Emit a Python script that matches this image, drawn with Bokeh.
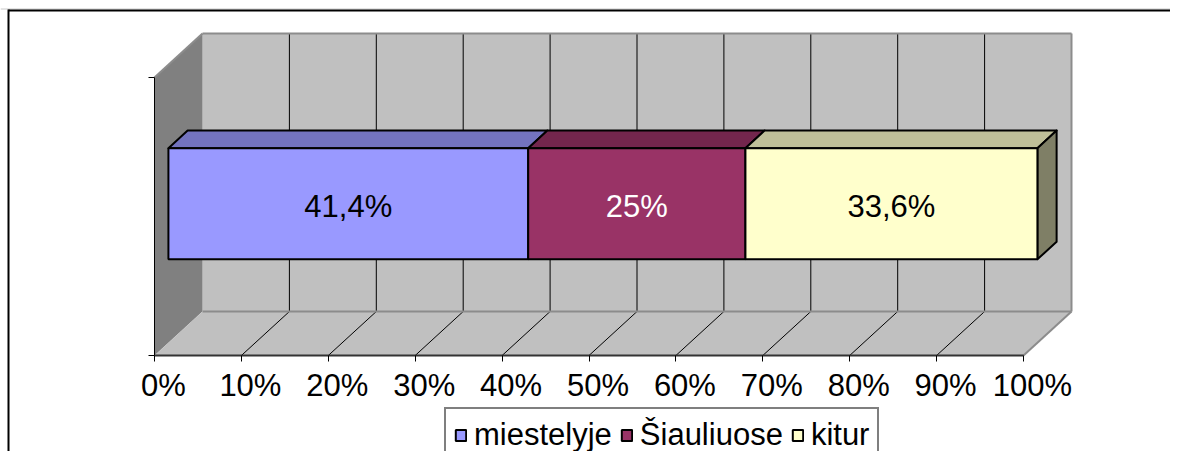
from bokeh.plotting import figure
from bokeh.models import (Range1d, LinearAxis, FixedTicker, PrintfTickFormatter,
                          Legend, LegendItem, ColumnDataSource)
from bokeh.core.properties import value
from bokeh.embed import file_html
from bokeh.resources import INLINE

# ---------------- data ----------------
categories = ["miestelyje", "Šiauliuose", "kitur"]
values = [41.4, 25.0, 33.6]
value_labels = ["41,4%", "25%", "33,6%"]
x_ticks = [0, 10, 20, 30, 40, 50, 60, 70, 80, 90, 100]

# ---------------- style ----------------
front_colors = ["#9999FF", "#993366", "#FFFFCC"]
top_colors = ["#7373BF", "#73264D", "#BFBF99"]
side_colors = ["#73738F", "#5A1F3C", "#7F7F66"]
label_colors = ["black", "white", "black"]
FONT = "Liberation Sans"
FS = "31px"

W, H = 1170, 451
PX = 8.69                      # pixels per percent
X0 = -154 / PX
X1 = X0 + W / PX
FLOOR = H - 355.0              # floor front edge (y units = px)
WALL = 278.0                   # wall height
DX = 48 / PX                   # depth offset in x (percent units)
DY = 44.0                      # depth offset in y
F1, F2 = 0.29, 0.69            # bar depth (front / back fraction)
BAR_FRAC = 0.4                 # bar thickness relative to wall height
SHIFT = 9 / PX                 # Excel-like label shift

p = figure(width=W, height=H, x_range=Range1d(X0, X1), y_range=Range1d(0, H),
           output_backend="svg", toolbar_location=None, min_border=0,
           x_axis_type=None, y_axis_type=None,
           background_fill_color="white", border_fill_color="white",
           outline_line_color=None)
p.extra_x_ranges = {"lbl": Range1d(X0 - SHIFT, X1 - SHIFT)}

xmin, xmax = x_ticks[0], x_ticks[-1]
top_y = FLOOR + DY + WALL

# walls
p.quad(left=[xmin + DX], right=[xmax + DX], bottom=[FLOOR + DY], top=[top_y],
       fill_color="#C0C0C0", line_color=None)
p.patch([xmin, xmin + DX, xmin + DX, xmin], [FLOOR + WALL, top_y, FLOOR + DY, FLOOR],
        fill_color="#808080", line_color=None)
p.patch([xmin, xmin + DX, xmax + DX, xmax], [FLOOR, FLOOR + DY, FLOOR + DY, FLOOR],
        fill_color="#C0C0C0", line_color=None)

# gridlines on back wall and floor
inner = x_ticks[1:-1]
p.segment(x0=[t + DX for t in inner], y0=[FLOOR + DY] * len(inner),
          x1=[t + DX for t in inner], y1=[top_y] * len(inner),
          line_color="black", line_width=1)
p.segment(x0=inner, y0=[FLOOR] * len(inner),
          x1=[t + DX for t in inner], y1=[FLOOR + DY] * len(inner),
          line_color="black", line_width=1)

# wall edges
p.segment(x0=[xmin + DX, xmax + DX, xmin + DX, xmax, xmin],
          y0=[top_y, FLOOR + DY, FLOOR + DY, FLOOR, FLOOR + WALL],
          x1=[xmax + DX, xmax + DX, xmax + DX, xmax + DX, xmin + DX],
          y1=[top_y, top_y, FLOOR + DY, FLOOR + DY, top_y],
          line_color="#8C8C8C", line_width=2)

# bars
starts = []
acc = 0.0
for v in values:
    starts.append(acc)
    acc += v
ends = [s + v for s, v in zip(starts, values)]

def bar_bottom(f):
    return FLOOR + f * DY + (1 - BAR_FRAC) / 2 * WALL

bh = BAR_FRAC * WALL
b1, b2 = bar_bottom(F1), bar_bottom(F2)

front_renderers = []
for i in range(len(values)):
    L, R = starts[i], ends[i]
    p.patch([L + F1 * DX, L + F2 * DX, R + F2 * DX, R + F1 * DX],
            [b1 + bh, b2 + bh, b2 + bh, b1 + bh],
            fill_color=top_colors[i], line_color="black", line_width=2, line_join="round")
    if i == len(values) - 1:
        p.patch([R + F1 * DX, R + F2 * DX, R + F2 * DX, R + F1 * DX],
                [b1, b2, b2 + bh, b1 + bh],
                fill_color=side_colors[i], line_color="black", line_width=2, line_join="round")
for i in range(len(values)):
    L, R = starts[i], ends[i]
    r = p.quad(left=[L + F1 * DX], right=[R + F1 * DX], bottom=[b1], top=[b1 + bh],
               fill_color=front_colors[i], line_color="black", line_width=2)
    front_renderers.append(r)

# value labels
src = ColumnDataSource(dict(
    x=[s + v / 2 + F1 * DX for s, v in zip(starts, values)],
    y=[b1 + bh / 2 - 2.5] * len(values),
    t=value_labels, c=label_colors))
p.text(x="x", y="y", text="t", text_color="c", source=src,
       text_font=value(FONT), text_font_size=value(FS),
       text_align="center", text_baseline="middle")

# axes
xa = LinearAxis(fixed_location=FLOOR, bounds=(xmin, xmax), ticker=FixedTicker(ticks=x_ticks),
                major_label_text_color=None, major_label_text_font_size="0px",
                major_tick_out=6, major_tick_in=0, major_tick_line_color="black",
                axis_line_color="#333333", axis_line_width=2)
p.add_layout(xa, "below")
xl = LinearAxis(x_range_name="lbl", fixed_location=FLOOR, ticker=FixedTicker(ticks=x_ticks),
                formatter=PrintfTickFormatter(format="%d%%"),
                axis_line_color=None, major_tick_line_color=None,
                major_tick_out=6, major_tick_in=0, major_label_standoff=6,
                major_label_text_font=FONT, major_label_text_font_size=FS,
                major_label_text_color="black")
p.add_layout(xl, "below")
ya = LinearAxis(fixed_location=xmin, bounds=(FLOOR, FLOOR + WALL),
                ticker=FixedTicker(ticks=[FLOOR, FLOOR + WALL]),
                major_label_text_font_size="0px", major_label_text_color=None,
                major_tick_out=6, major_tick_in=0, major_tick_line_color="black",
                axis_line_color="black", axis_line_width=1)
p.add_layout(ya, "left")

# legend
legend = Legend(items=[LegendItem(label=c, renderers=[r]) for c, r in zip(categories, front_renderers)],
                orientation="horizontal", location=(444, -12),
                label_text_font=FONT, label_text_font_size=FS, label_text_color="black",
                glyph_width=13, glyph_height=14, label_standoff=7, spacing=8,
                padding=8, margin=0, border_line_color="black", border_line_width=2,
                background_fill_color="white", background_fill_alpha=1.0)
p.add_layout(legend, "center")

# chart area frame (top and left edges)
BX = X0 + 8 / PX
p.segment(x0=[X0], y0=[H - 8.5], x1=[X1], y1=[H - 8.5], line_color="#C8C8C8", line_width=1)
p.segment(x0=[BX, BX], y0=[H - 10, 0], x1=[X1, BX], y1=[H - 10, H - 9],
          line_color="black", line_width=2)

open("out.html", "w").write(file_html(p, INLINE))
